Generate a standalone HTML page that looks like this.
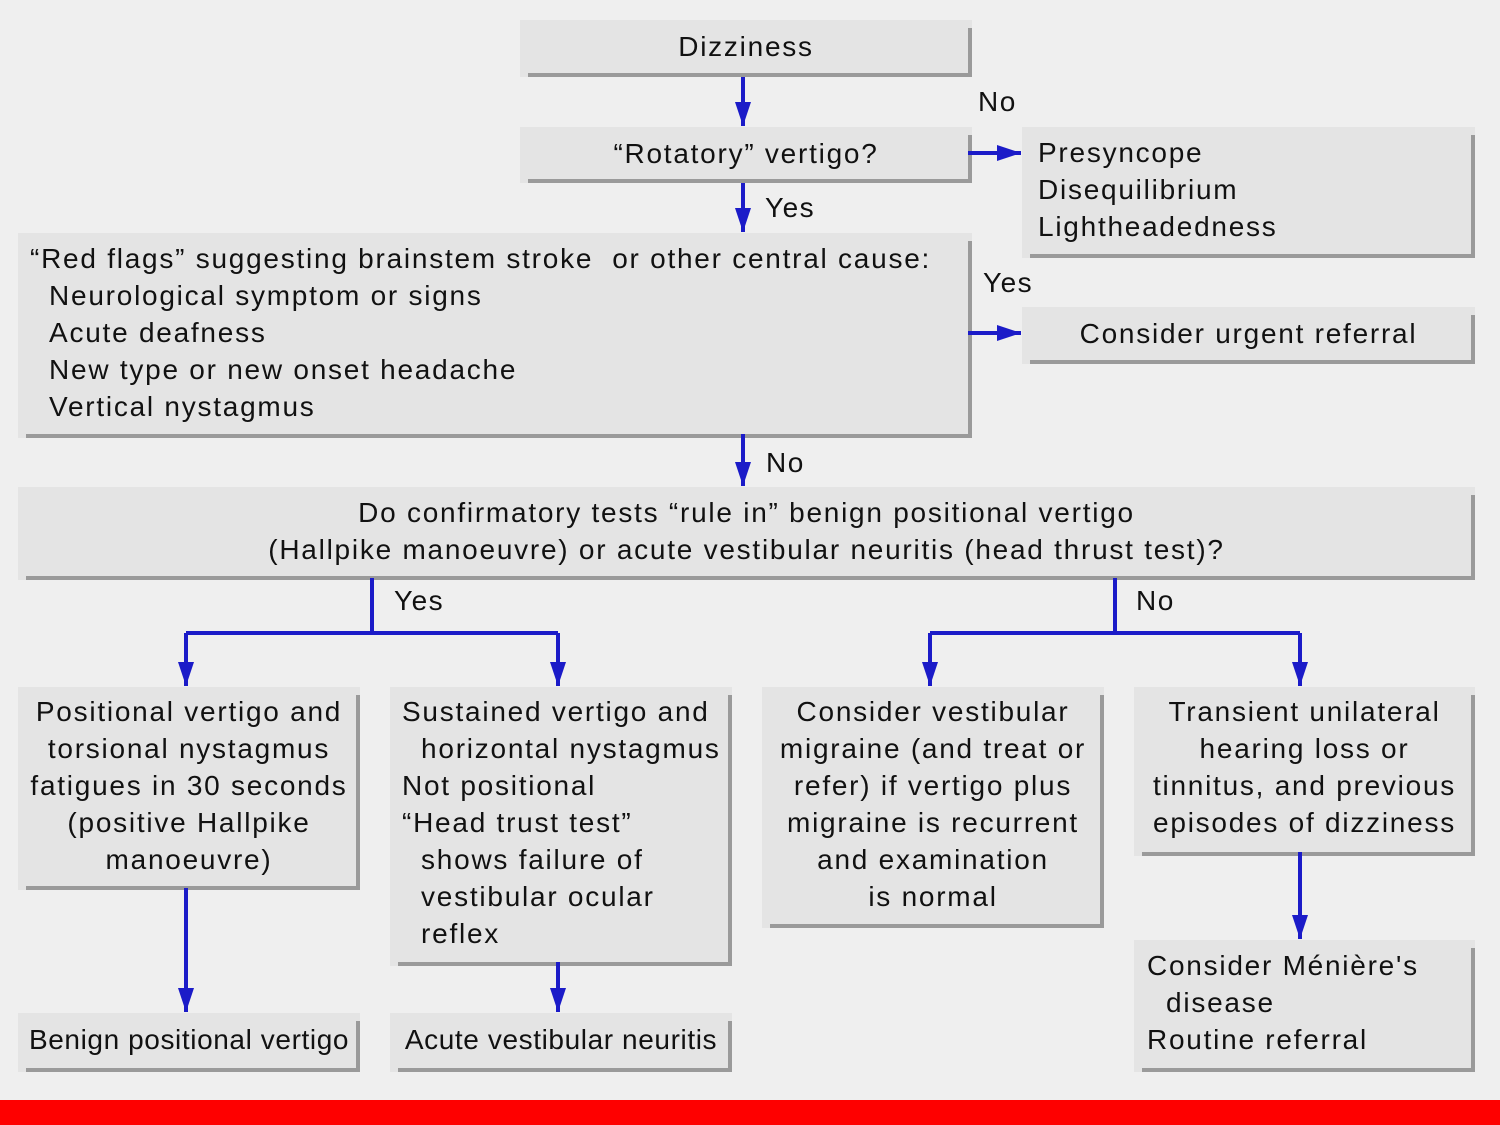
<!DOCTYPE html>
<html><head><meta charset="utf-8"><style>
body{margin:0;width:1500px;height:1125px;background:#efefef;position:relative;overflow:hidden;font-family:"Liberation Sans","DejaVu Sans",sans-serif;color:#111}
.b{position:absolute;background:#e4e4e4;box-sizing:border-box;font-size:28px;line-height:37px;letter-spacing:1.75px;white-space:nowrap}
.b::before{content:"";position:absolute;right:0;top:8px;bottom:0;width:4px;background:#9a9a9a}
.b::after{content:"";position:absolute;left:8px;right:0;bottom:0;height:4px;background:#9a9a9a}
.c{text-align:center}
.l{position:absolute;font-size:28px;letter-spacing:1.5px}
svg{position:absolute;left:0;top:0}
</style></head><body>
<div class="b c" style="left:520px;top:20px;width:452px;height:57px;padding-top:8px">Dizziness</div>
<div class="b c" style="left:520px;top:127px;width:452px;height:56px;padding-top:8px">“Rotatory” vertigo?</div>
<div class="b" style="left:1022px;top:127px;width:453px;height:131px;padding:7px 0 0 16px">Presyncope<br>Disequilibrium<br>Lightheadedness</div>
<div class="b" style="left:18px;top:233px;width:954px;height:205px;padding:7px 0 0 12px">“Red flags” suggesting brainstem stroke &nbsp;or other central cause:<br>&nbsp;&nbsp;Neurological symptom or signs<br>&nbsp;&nbsp;Acute deafness<br>&nbsp;&nbsp;New type or new onset headache<br>&nbsp;&nbsp;Vertical nystagmus</div>
<div class="b c" style="left:1022px;top:307px;width:453px;height:57px;padding-top:8px">Consider urgent referral</div>
<div class="b c" style="left:18px;top:487px;width:1457px;height:93px;padding-top:7px">Do confirmatory tests “rule in” benign positional vertigo<br>(Hallpike manoeuvre) or acute vestibular neuritis (head thrust test)?</div>
<div class="b c" style="left:18px;top:687px;width:342px;height:203px;padding-top:6px">Positional vertigo and<br>torsional nystagmus<br>fatigues in 30 seconds<br>(positive Hallpike<br>manoeuvre)</div>
<div class="b" style="left:390px;top:687px;width:342px;height:279px;padding:6px 0 0 12px">Sustained vertigo and<br>&nbsp;&nbsp;horizontal nystagmus<br>Not positional<br>“Head trust test”<br>&nbsp;&nbsp;shows failure of<br>&nbsp;&nbsp;vestibular ocular<br>&nbsp;&nbsp;reflex</div>
<div class="b c" style="left:762px;top:687px;width:342px;height:241px;padding-top:6px">Consider vestibular<br>migraine (and treat or<br>refer) if vertigo plus<br>migraine is recurrent<br>and examination<br>is normal</div>
<div class="b c" style="left:1134px;top:687px;width:341px;height:169px;padding-top:6px">Transient unilateral<br>hearing loss or<br>tinnitus, and previous<br>episodes of dizziness</div>
<div class="b" style="left:1134px;top:940px;width:341px;height:132px;padding:7px 0 0 13px">Consider Ménière's<br>&nbsp;&nbsp;disease<br>Routine referral</div>
<div class="b c" style="left:18px;top:1013px;width:342px;height:59px;padding-top:8px;letter-spacing:0.6px">Benign positional vertigo</div>
<div class="b c" style="left:390px;top:1013px;width:342px;height:59px;padding-top:8px;letter-spacing:0.6px">Acute vestibular neuritis</div>
<div class="l" style="left:978px;top:86px">No</div>
<div class="l" style="left:765px;top:192px">Yes</div>
<div class="l" style="left:983px;top:267px">Yes</div>
<div class="l" style="left:766px;top:447px">No</div>
<div class="l" style="left:394px;top:585px">Yes</div>
<div class="l" style="left:1136px;top:585px">No</div>
<svg width="1500" height="1125">
<defs><marker id="a" markerWidth="6" markerHeight="4" refX="6" refY="2" orient="auto" markerUnits="strokeWidth"><path d="M0,0L6,2L0,4z" fill="#1b1bc8"/></marker></defs>
<g stroke="#1b1bc8" stroke-width="4" fill="none">
<path d="M743 77V126" marker-end="url(#a)"/>
<path d="M743 183V232" marker-end="url(#a)"/>
<path d="M968 153H1021" marker-end="url(#a)"/>
<path d="M968 333H1021" marker-end="url(#a)"/>
<path d="M743 434V486" marker-end="url(#a)"/>
<path d="M372 578V633"/><path d="M186 633H558"/>
<path d="M186 633V686" marker-end="url(#a)"/><path d="M558 633V686" marker-end="url(#a)"/>
<path d="M1115 578V633"/><path d="M930 633H1300"/>
<path d="M930 633V686" marker-end="url(#a)"/><path d="M1300 633V686" marker-end="url(#a)"/>
<path d="M186 888V1012" marker-end="url(#a)"/>
<path d="M558 962V1012" marker-end="url(#a)"/>
<path d="M1300 852V939" marker-end="url(#a)"/>
</g></svg>
<div style="position:absolute;left:0;top:1100px;width:1500px;height:25px;background:#fe0000"></div>
</body></html>
